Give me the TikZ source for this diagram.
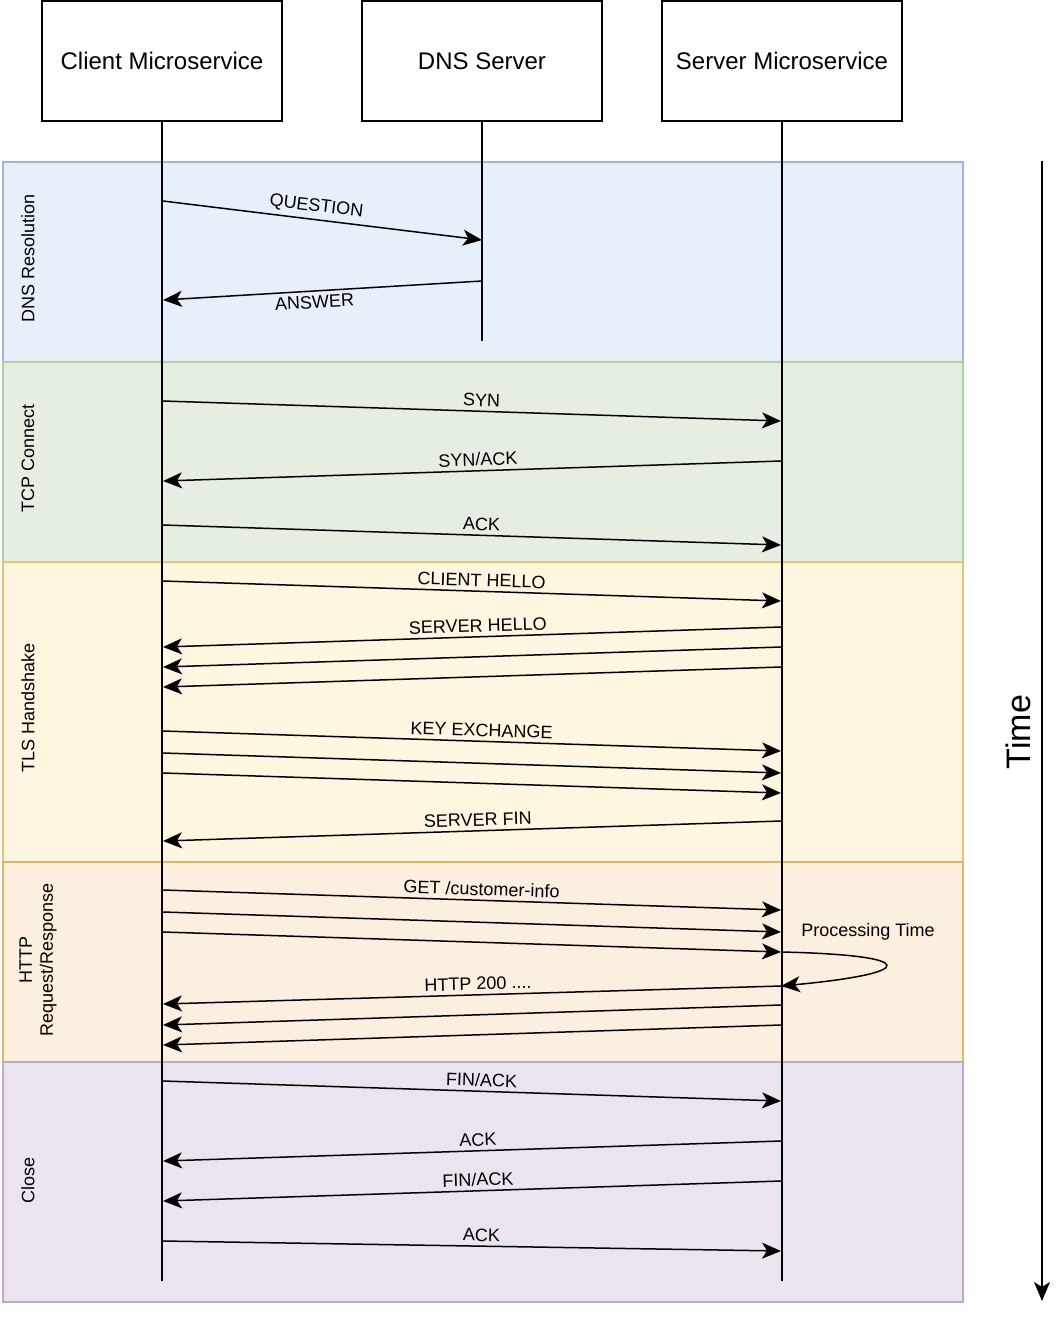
\documentclass[tikz,border=0pt]{standalone}
\usepackage{fontspec}
\setmainfont{Liberation Sans}
\usetikzlibrary{arrows.meta}
\definecolor{dnsfill}{HTML}{E7EFFA}\definecolor{dnsline}{HTML}{9DB5D8}
\definecolor{tcpfill}{HTML}{E4EEE1}\definecolor{tcpline}{HTML}{B2CFA2}
\definecolor{tlsfill}{HTML}{FEF6E0}\definecolor{tlsline}{HTML}{E3C66E}
\definecolor{httpfill}{HTML}{FDEFE0}\definecolor{httpline}{HTML}{E2B660}
\definecolor{closefill}{HTML}{EBE3EF}\definecolor{closeline}{HTML}{BFA8CB}
\begin{document}
\begin{tikzpicture}[x=1pt,y=-1pt,
  actor/.style={draw,line width=1.2pt,minimum width=240pt,minimum height=120pt,inner sep=0pt,font=\fontsize{24}{28}\selectfont},
  band/.style={line width=1.5pt,minimum width=960pt,inner sep=0pt,anchor=north west},
  bandlabel/.style={rotate=90,font=\fontsize{18}{21}\selectfont,align=center},
  life/.style={line width=1.5pt},
  msg/.style={line width=1.5pt,-{Stealth[length=19pt,width=16pt,inset=5pt]}},
  lab/.style={sloped,font=\fontsize{18}{21}\selectfont,inner sep=4pt},
  fw/.style={pos=0.515},
  bw/.style={pos=0.49}]
\useasboundingbox (0,0) rectangle (1058,1318);
% bands
\node[band,fill=dnsfill,draw=dnsline,minimum height=200pt] (dnsband) at (2,161) {};
\node[band,fill=tcpfill,draw=tcpline,minimum height=200pt] (tcpband) at (2,361) {};
\node[band,fill=tlsfill,draw=tlsline,minimum height=300pt] (tlsband) at (2,561) {};
\node[band,fill=httpfill,draw=httpline,minimum height=200pt] (httpband) at (2,861) {};
\node[band,fill=closefill,draw=closeline,minimum height=240pt] (closeband) at (2,1061) {};
\node[bandlabel] (l1) at (28,258) {DNS Resolution};
\node[bandlabel] (l2) at (28,458) {TCP Connect};
\node[bandlabel] (l3) at (28,708) {TLS Handshake};
\node[bandlabel] (l4) at (38,960) {HTTP\\Request/Response};
\node[bandlabel] (l5) at (28,1180) {Close};
% actors
\node[actor] (cl) at (162,61) {Client Microservice};
\node[actor] (dns) at (482,61) {DNS Server};
\node[actor] (sv) at (782,61) {Server Microservice};
\coordinate (clend) at (162,1281);
\coordinate (dnsend) at (482,341);
\coordinate (svend) at (782,1281);
\draw[life] (cl.south) -- (clend);
\draw[life] (dns.south) -- (dnsend);
\draw[life] (sv.south) -- (svend);
\coordinate (C) at (163,0);
\coordinate (D) at (482,0);
\coordinate (S) at (781,0);
% DNS
\draw[msg] (C|-0,201) -- node[lab,above,pos=0.476] {QUESTION} (D|-0,240);
\draw[msg] (D|-0,281) -- node[lab,below,pos=0.527] {ANSWER} (C|-0,300);
% TCP
\draw[msg] (C|-0,401) -- node[lab,above,fw] {SYN} (S|-0,421);
\draw[msg] (S|-0,461) -- node[lab,above,bw] {SYN/ACK} (C|-0,481);
\draw[msg] (C|-0,525) -- node[lab,above,fw] {ACK} (S|-0,545);
% TLS
\draw[msg] (C|-0,581) -- node[lab,above,fw] {CLIENT HELLO} (S|-0,601);
\draw[msg] (S|-0,627) -- node[lab,above,bw] {SERVER HELLO} (C|-0,647);
\draw[msg] (S|-0,647) -- (C|-0,667);
\draw[msg] (S|-0,667) -- (C|-0,687);
\draw[msg] (C|-0,731) -- node[lab,above,fw] {KEY EXCHANGE} (S|-0,751);
\draw[msg] (C|-0,753) -- (S|-0,773);
\draw[msg] (C|-0,773) -- (S|-0,793);
\draw[msg] (S|-0,821) -- node[lab,above,bw] {SERVER FIN} (C|-0,841);
% HTTP
\draw[msg] (C|-0,890) -- node[lab,above,fw] {GET /customer-info} (S|-0,910);
\draw[msg] (C|-0,912) -- (S|-0,932);
\draw[msg] (C|-0,932) -- (S|-0,952);
\node[font=\fontsize{18}{21}\selectfont] (pt) at (868,932) {Processing Time};
\draw[msg] (S|-0,952) .. controls (920,955) and (920,973) .. (S|-0,986);
\draw[msg] (S|-0,986) -- node[lab,above,bw] {HTTP 200 ....} (C|-0,1004);
\draw[msg] (S|-0,1005) -- (C|-0,1025);
\draw[msg] (S|-0,1025) -- (C|-0,1045);
% Close
\draw[msg] (C|-0,1081) -- node[lab,above,fw] {FIN/ACK} (S|-0,1101);
\draw[msg] (S|-0,1141) -- node[lab,above,bw] {ACK} (C|-0,1161);
\draw[msg] (S|-0,1181) -- node[lab,above,bw] {FIN/ACK} (C|-0,1201);
\draw[msg] (C|-0,1241) -- node[lab,above,fw] {ACK} (S|-0,1251);
% time
\coordinate (t0) at (1042,161);
\coordinate (t1) at (1042,1301);
\draw[msg] (t0) -- (t1);
\node[rotate=90,font=\fontsize{34}{40}\selectfont] (time) at (1018,732) {Time};
\end{tikzpicture}
\end{document}
